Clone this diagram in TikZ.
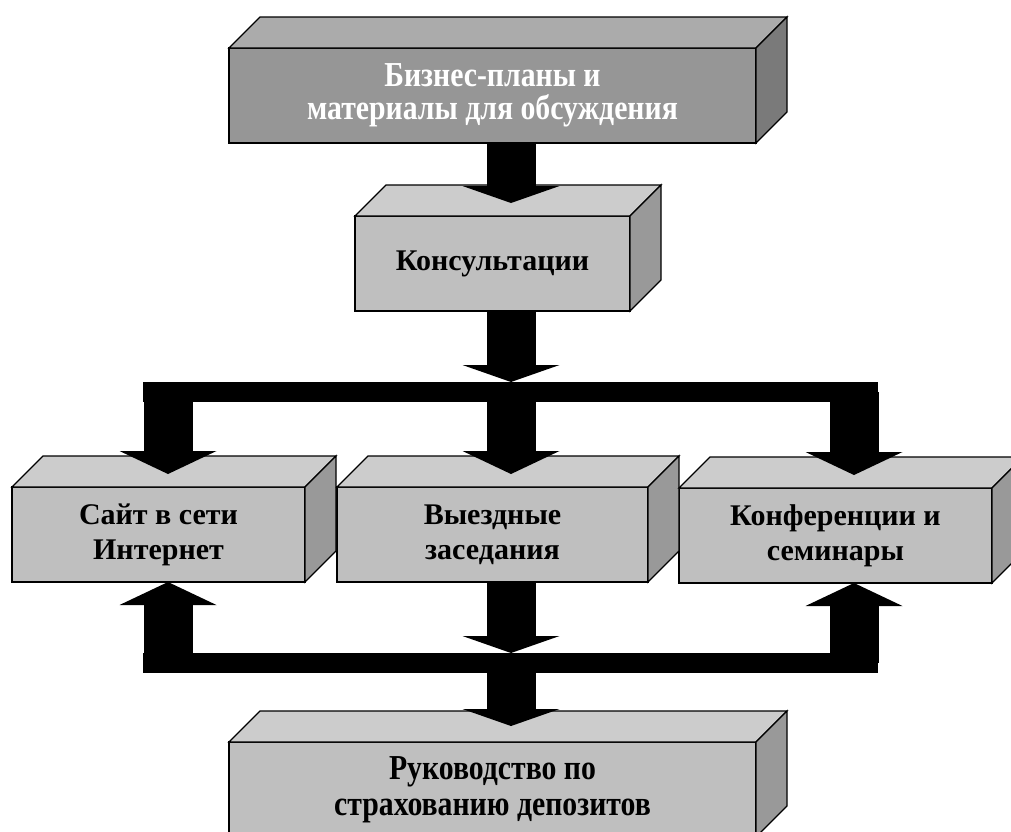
\documentclass[tikz,border=0pt]{standalone}
\usepackage{fontspec}
\setmainfont{Liberation Serif}
\newfontfamily\narrowserif[FakeStretch=0.85]{Liberation Serif}
\usetikzlibrary{arrows.meta}

\tikzset{
  slab/.style={draw, line width=1.3pt, fill=cFace, inner sep=0pt, outer sep=0pt,
    minimum height=95pt, align=center, font=\bfseries\fontsize{30}{35}\selectfont},
  narrowslab/.style={slab, minimum width=527pt,
    font=\narrowserif\bfseries\fontsize{35}{#1}\selectfont},
  shaft/.style={line width=49pt, black},
  bus/.style={line width=20pt, black},
  headshort/.tip={Triangle[length=17pt, width=97pt, line width=0pt]},
  headlong/.tip={Triangle[length=23pt, width=97pt, line width=0pt]},
}

\begin{document}
\begin{tikzpicture}[x=1pt, y=-1pt]

\colorlet{cFace}{black!25}
\colorlet{cTop}{black!20}
\colorlet{cSide}{black!40}
\colorlet{cDark}{black!41}
\colorlet{cDarkTop}{black!33}
\colorlet{cDarkSide}{black!52}

\useasboundingbox (0,0) rectangle (1011,831);

%% Depth of every box (to the right and up), in px.
\def\dd{31}

%% ---------- front faces ----------
\node[narrowslab=33, fill=cDark, text=white] (plan) at (492.5,95.5)
  {Бизнес-планы и\\материалы для обсуждения};
\node[slab, minimum width=275pt] (cons) at (492.5,263.5) {Консультации};
\node[slab, minimum width=293pt] (site) at (158.5,534.5) {Сайт в сети\\Интернет};
\node[slab, minimum width=311pt] (trip) at (492.5,534.5) {Выездные\\заседания};
\node[slab, minimum width=313pt] (conf) at (835.5,535.5) {Конференции и\\семинары};
\node[narrowslab=36] (guide) at (492.5,789.5)
  {Руководство по\\страхованию депозитов};

%% ---------- top and side faces ----------
\foreach \n/\ct/\cs in {plan/cDarkTop/cDarkSide, cons/cTop/cSide, site/cTop/cSide,
                        trip/cTop/cSide, conf/cTop/cSide, guide/cTop/cSide} {
  \filldraw[fill=\ct, line width=1.3pt]
    (\n.north west) -- ++(\dd,-\dd) -- ([shift={(\dd,-\dd)}]\n.north east)
    -- (\n.north east) -- cycle;
  \filldraw[fill=\cs, line width=1.3pt]
    (\n.north east) -- ++(\dd,-\dd) -- ([shift={(\dd,-\dd)}]\n.south east)
    -- (\n.south east) -- cycle;
}

%% ---------- arrow axes and the two bars ----------
\coordinate (xl) at (168,0);
\coordinate (xm) at (511,0);
\coordinate (xr) at (854,0);
\coordinate (busAl) at (143,392);
\coordinate (busAr) at (878,392);
\coordinate (busBl) at (143,663);
\coordinate (busBr) at (878,663);

%% ---------- upper part ----------
\draw[shaft, -headshort, shorten >=13pt] (xm |- plan.south) -- (xm |- cons.north);
\draw[shaft, -headshort, shorten >=10pt] (xm |- cons.south) -- (xm |- busAl);
\draw[bus] (busAl) -- (busAr);
\foreach \c/\n in {xl/site, xm/trip, xr/conf}
  \draw[shaft, -headlong, shorten >=13pt] (\c |- busAl) -- (\c |- \n.north);

%% ---------- lower part ----------
\draw[shaft, -headshort, shorten >=10pt] (xm |- trip.south) -- (xm |- busBl);
\draw[bus] (busBl) -- (busBr);
\foreach \c/\n in {xl/site, xr/conf}
  \draw[shaft, -headlong] (\c |- busBl) -- (\c |- \n.south);
\draw[shaft, -headshort, shorten >=16pt] (xm |- busBl) -- (xm |- guide.north);

\end{tikzpicture}
\end{document}
